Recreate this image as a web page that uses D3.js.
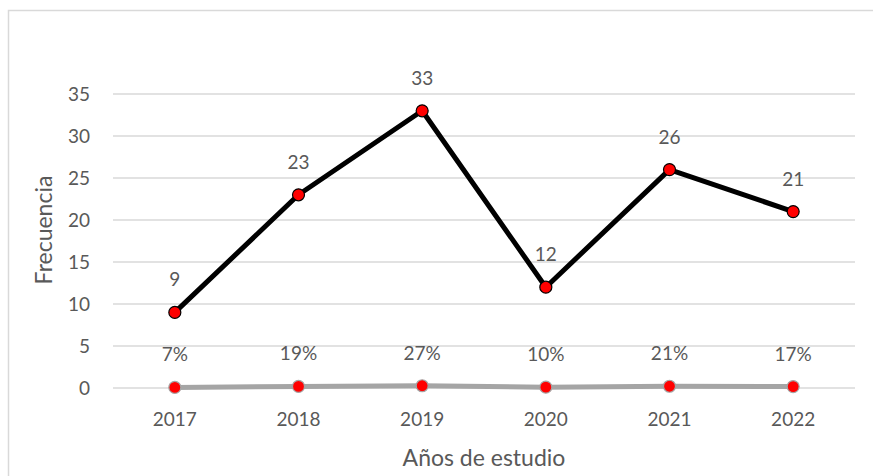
<!DOCTYPE html>
<html>
<head>
<meta charset="utf-8">
<script src="https://cdn.jsdelivr.net/npm/d3@7"></script>
<style>
  body { margin: 0; background: #fff; }
  text { font-family: Lato, "Open Sans", sans-serif; fill: #595959; }
</style>
</head>
<body>
<script>
const years = ['2017', '2018', '2019', '2020', '2021', '2022'];
const frecuencia = [9, 23, 33, 12, 26, 21];
const porcentaje = [0.07, 0.19, 0.27, 0.10, 0.21, 0.17];
const yTicks = [0, 5, 10, 15, 20, 25, 30, 35];

const W = 873, H = 476;
const svg = d3.select('body').append('svg').attr('width', W).attr('height', H);

// chart border
svg.append('rect')
  .attr('x', 8.5).attr('y', 10.5).attr('width', 900).attr('height', 500)
  .attr('fill', '#fff').attr('stroke', '#d9d9d9').attr('stroke-width', 1.5);

const x = d3.scaleBand().domain(years).range([113, 855]);
const y = d3.scaleLinear().domain([0, 35]).range([388, 94]);

// gridlines
svg.append('g').selectAll('line').data(yTicks).enter().append('line')
  .attr('x1', 113).attr('x2', 855)
  .attr('y1', d => y(d)).attr('y2', d => y(d))
  .attr('stroke', '#d9d9d9').attr('stroke-width', 1.3);

// y axis labels
const yAxis = svg.append('g').attr('transform', 'translate(90,0)')
  .call(d3.axisLeft(y).tickValues(yTicks).tickSize(0).tickPadding(0));
yAxis.select('.domain').remove();
yAxis.selectAll('text').style('font-size', '19px').attr('fill', '#595959');

// x axis labels
const xAxis = svg.append('g').attr('transform', 'translate(0,412)')
  .call(d3.axisBottom(x).tickSize(0).tickPadding(0));
xAxis.select('.domain').remove();
xAxis.selectAll('text').style('font-size', '19px').attr('fill', '#595959');

// axis titles
svg.append('text').attr('x', (113 + 855) / 2).attr('y', 466)
  .attr('text-anchor', 'middle').style('font-size', '23px').text('Años de estudio');
svg.append('text').attr('transform', 'translate(52,230) rotate(-90)')
  .attr('text-anchor', 'middle').style('font-size', '23px').text('Frecuencia');

const cx = d => x(d) + x.bandwidth() / 2;
const line = d3.line().x(d => cx(d[0])).y(d => y(d[1]));

// percentage series
const pctData = years.map((yr, i) => [yr, porcentaje[i]]);
svg.append('path').datum(pctData).attr('d', line)
  .attr('fill', 'none').attr('stroke', '#a5a5a5').attr('stroke-width', 5);
svg.append('g').selectAll('circle').data(pctData).enter().append('circle')
  .attr('cx', d => cx(d[0])).attr('cy', d => y(d[1])).attr('r', 6)
  .attr('fill', '#ff0000').attr('stroke', '#a5a5a5').attr('stroke-width', 1.2);
svg.append('g').selectAll('text').data(pctData).enter().append('text')
  .attr('x', d => cx(d[0])).attr('y', d => y(d[1]) - 26)
  .attr('text-anchor', 'middle').style('font-size', '19px')
  .text(d => Math.round(d[1] * 100) + '%');

// frequency series
const freqData = years.map((yr, i) => [yr, frecuencia[i]]);
svg.append('path').datum(freqData).attr('d', line)
  .attr('fill', 'none').attr('stroke', '#000').attr('stroke-width', 5)
  .attr('stroke-linejoin', 'round');
svg.append('g').selectAll('circle').data(freqData).enter().append('circle')
  .attr('cx', d => cx(d[0])).attr('cy', d => y(d[1])).attr('r', 6)
  .attr('fill', '#ff0000').attr('stroke', '#000').attr('stroke-width', 1.2);
svg.append('g').selectAll('text').data(freqData).enter().append('text')
  .attr('x', d => cx(d[0])).attr('y', d => y(d[1]) - 26)
  .attr('text-anchor', 'middle').style('font-size', '19px')
  .text(d => d[1]);
</script>
</body>
</html>
